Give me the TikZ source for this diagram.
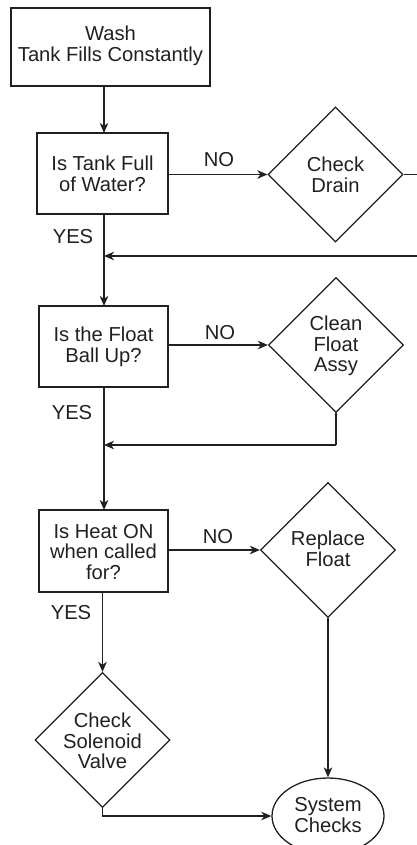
\documentclass[tikz,border=0pt]{standalone}
\usepackage{fontspec}
\setmainfont{Liberation Sans}
\usetikzlibrary{shapes.geometric,arrows.meta}
\definecolor{ink}{HTML}{231F20}
\begin{document}
\begin{tikzpicture}[x=1pt,y=-1pt,
  every node/.style={text=ink,font=\fontsize{20.2}{20.5}\selectfont,align=center},
  box/.style={draw=ink,line width=1.3pt,rectangle,inner sep=0pt},
  dmd/.style={draw=ink,line width=1.3pt,diamond,inner sep=0pt,minimum width=135pt,minimum height=135pt},
  oval/.style={draw=ink,line width=1.3pt,ellipse,inner sep=0pt,minimum width=112pt,minimum height=76pt},
  conn/.style={draw=ink,line width=1.3pt},
  arr/.style={conn,-{Stealth[length=10pt,width=8.5pt,inset=3pt]}}]
\useasboundingbox (0,0) rectangle (417,845);
\clip (0,0) rectangle (417,845);
% boxes
\node[box,minimum width=199pt,minimum height=78pt] (b1) at (110.5,47) {};
\node (t1) at (110.5,46) {Wash\\Tank Fills Constantly};
\node[box,minimum width=131pt,minimum height=81pt] (b2) at (102.5,173.5) {};
\node (t2) at (102.5,174) {Is Tank Full\\of Water?};
\node[box,minimum width=129pt,minimum height=81pt] (b3) at (103.5,346.5) {};
\node (t3) at (103.5,347) {Is the Float\\Ball Up?};
\node[box,minimum width=129pt,minimum height=82pt] (b4) at (103.5,551) {};
\node (t4) at (103.5,552) {Is Heat ON\\when called\\for?};
% diamonds
\node[dmd] (d1) at (335.5,174.5) {};
\node (td1) at (335.5,175) {Check\\Drain};
\node[dmd] (d2) at (336,345) {};
\node (td2) at (336,346) {Clean\\Float\\Assy};
\node[dmd] (d3) at (328,550) {};
\node (td3) at (328,549) {Replace\\Float};
\node[dmd] (d4) at (102.5,740) {};
\node (td4) at (102.5,741) {Check\\Solenoid\\Valve};
% terminal
\node[oval] (e) at (328,816) {};
\node (te) at (328,815) {System\\Checks};
% labels
\node (no1) at (219,160) {NO};
\node (yes1) at (73,237) {YES};
\node (no2) at (220,333) {NO};
\node (yes2) at (72,413) {YES};
\node (no3) at (218,537) {NO};
\node (yes3) at (71,613) {YES};
% junctions
\coordinate (j1) at (104,256);
\coordinate (j2) at (104,445);
\coordinate (r1) at (430,174.5);
\coordinate (r2) at (430,256);
% connectors
\draw[arr] (104,86) -- (104,133);
\draw[arr] (b2.east |- d1.west) -- (d1.west);
\draw[conn] (d1.east) -- (r1) -- (r2);
\draw[arr] (r2) -- (j1);
\draw[arr] (104,214) -- (104,306);
\draw[arr] (b3.east |- d2.west) -- (d2.west);
\draw[conn] (d2.south) -- (d2.south |- j2);
\draw[arr] (d2.south |- j2) -- (j2);
\draw[arr] (104,387) -- (104,510);
\draw[arr] (b4.east |- d3.west) -- (d3.west);
\draw[arr] (d3.south) -- (e.north);
\draw[arr] (b4.south -| d4.north) -- (d4.north);
\draw[arr] (d4.south) -- (d4.south |- e.west) -- (e.west);
\end{tikzpicture}
\end{document}
